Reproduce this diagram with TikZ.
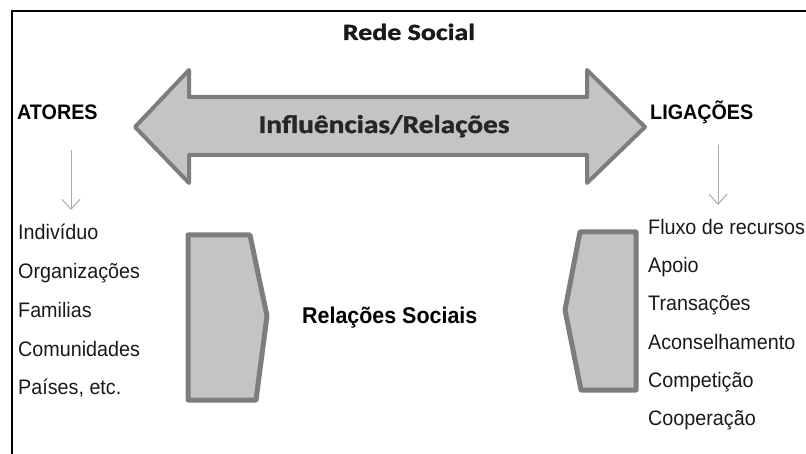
\documentclass[tikz,border=0pt]{standalone}
\usepackage{fontspec}
\usepackage{graphicx}
\setmainfont{Liberation Sans}
\newfontfamily\arialn[FakeStretch=0.94]{Liberation Sans}
\newfontfamily\calibri[FakeBold=1.2]{Carlito}
\usepackage{tikz}
\usetikzlibrary{arrows,arrows.meta,positioning}
\definecolor{rsgray}{RGB}{196,196,196}
\definecolor{rsedge}{RGB}{125,125,125}
\definecolor{rsthin}{RGB}{170,170,170}
\tikzstyle{bigarrow} = [draw=rsedge, fill=rsgray, line width=4pt, line join=round]
\tikzstyle{bracket} = [draw=rsedge, fill=rsgray, line width=5pt, line join=round]
\tikzstyle{downarrow} = [draw=rsthin, line width=1pt, -{Straight Barb[length=10pt,width=18pt]}]
\tikzstyle{listitem} = [anchor=base west, inner sep=0pt, text=black!90, font=\arialn\fontsize{21}{21}\selectfont]
\tikzstyle{heading} = [anchor=base west, inner sep=0pt, font=\arialn\bfseries\fontsize{21}{21}\selectfont]
\begin{document}
\begin{tikzpicture}[x=1pt,y=-1pt]
\useasboundingbox (0,0) rectangle (806,454);
% Frame
\draw[line width=2.5pt] (12,454) -- (12,11) -- (806,11);

% Title
\node[anchor=base, inner sep=0pt, text=black!90, font=\calibri\bfseries\fontsize{23.3}{23.3}\selectfont] (rede) at (409,40) {\scalebox{1.2}[1]{Rede Social}};

% Double arrow
\draw[bigarrow] (135,127) -- (189,70) -- (189,97) -- (587,97) -- (587,70) -- (645,127)
  -- (587,183) -- (587,155) -- (189,155) -- (189,183) -- cycle;
\node[anchor=base, inner sep=0pt, text=black!85, font=\calibri\bfseries\fontsize{25.5}{25.5}\selectfont] (infl) at (384,133) {\scalebox{1.15}[1]{Influências/Relações}};

% Headings
\node[heading] (atores) at (17,120) {ATORES};
\node[heading] (ligacoes) at (650,120) {LIGAÇÕES};

% Down arrows
\coordinate (a1) at (71,150);
\coordinate (a2) at (71,210);
\coordinate (l1) at (718,145);
\coordinate (l2) at (718,205);
\draw[downarrow] (a1) -- (a2);
\draw[downarrow] (l1) -- (l2);

% Actors
\foreach \txt [count=\i] in {Indivíduo, Organizações, Familias, Comunidades, {Países, etc.}}
  \node[listitem] (act\i) at (18,{201.3+38.7*\i}) {\txt};

% Links
\foreach \txt [count=\i] in {Fluxo de recursos, Apoio, Transações, Aconselhamento, Competição, Cooperação}
  \node[listitem] (lig\i) at (648,{197+38*\i}) {\txt};

% Relacoes sociais
\draw[bracket] (188,235) -- (250,235) -- (267,316) -- (256,400) -- (188,400) -- cycle;
\draw[bracket] (636,232) -- (580,232) -- (565,310) -- (581,390) -- (636,390) -- cycle;
\node[anchor=base west, inner sep=0pt, font=\arialn\bfseries\fontsize{22.8}{22.8}\selectfont] (rel) at (302,324) {Relações Sociais};
\end{tikzpicture}
\end{document}
